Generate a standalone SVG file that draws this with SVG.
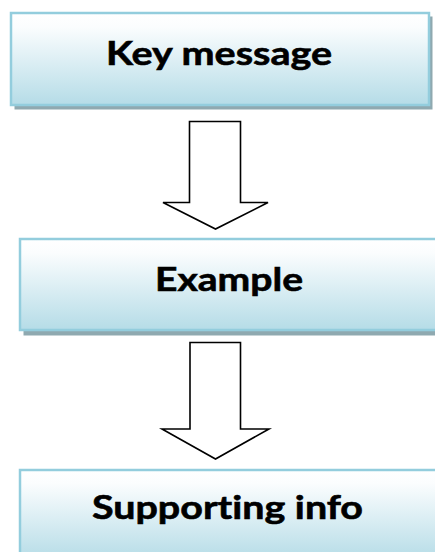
<svg xmlns="http://www.w3.org/2000/svg" width="435" height="552" viewBox="0 0 435 552">
<defs>
<linearGradient id="g" x1="0" y1="0" x2="0" y2="1">
<stop offset="0" stop-color="#ffffff"/>
<stop offset="0.15" stop-color="#fbfdfe"/>
<stop offset="1" stop-color="#b5dce7"/>
</linearGradient>
</defs>
<style>
.shadow{fill:#8fa9b0}
.box{fill:url(#g);stroke:#93cddd;stroke-width:2.5}
.lbl{font-family:Lato,"Open Sans","Liberation Sans",sans-serif;font-weight:bold;font-size:33px;fill:#000;text-anchor:middle;font-variant-ligatures:none;stroke:#000;stroke-width:0.6}
.arrow{fill:#fff;stroke:#000;stroke-width:1.6;stroke-linejoin:miter}
</style>
<rect width="435" height="552" fill="#fff"/>
<g id="node-key">
<rect class="shadow" x="14.5" y="16.5" width="418" height="93"/>
<rect class="box" x="11" y="13" width="418" height="92"/>
<text class="lbl" x="219" y="65" textLength="226" lengthAdjust="spacingAndGlyphs">Key message</text>
</g>
<g id="node-example">
<rect class="shadow" x="23.5" y="242.5" width="418" height="93"/>
<rect class="box" x="20" y="239" width="418" height="91"/>
<text class="lbl" x="229" y="291" textLength="148" lengthAdjust="spacingAndGlyphs">Example</text>
</g>
<g id="node-supporting">
<rect class="shadow" x="23.5" y="473.5" width="418" height="90"/>
<rect class="box" x="20" y="470" width="418" height="90"/>
<text class="lbl" x="227.5" y="519" textLength="271" lengthAdjust="spacingAndGlyphs">Supporting info</text>
</g>
<g id="connectors">
<polygon class="arrow" points="189.5,121.5 240.5,121.5 240.5,202.5 268,202.5 215.5,229 163,202.5 189.5,202.5"/>
<polygon class="arrow" points="190,342.5 240.5,342.5 240.5,429 269,429 215.5,459 162,429 190,429"/>
</g>
</svg>
